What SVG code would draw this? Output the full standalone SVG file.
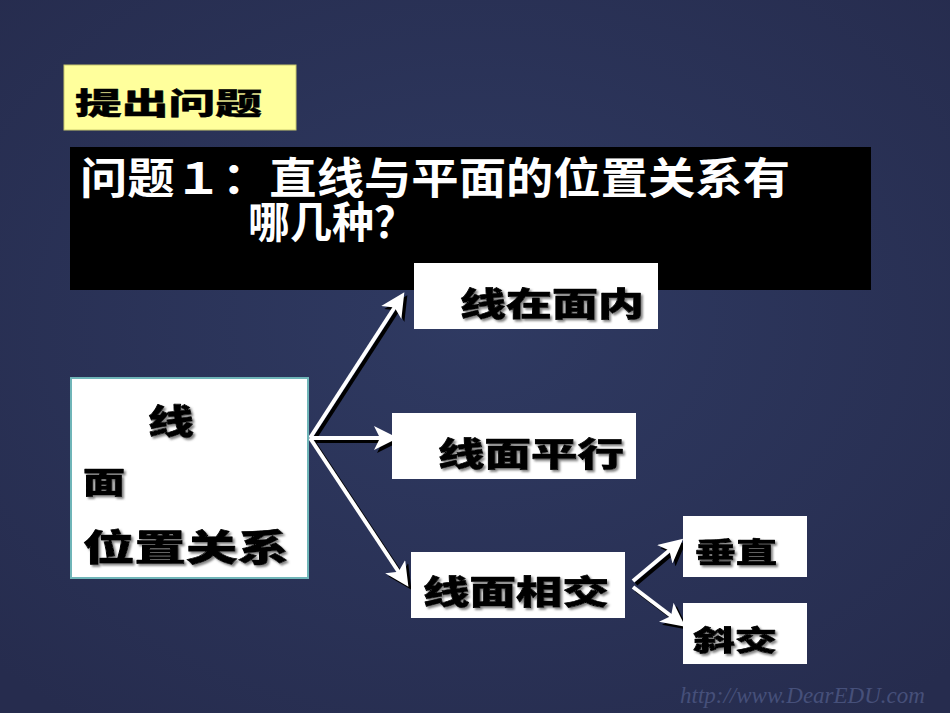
<svg xmlns="http://www.w3.org/2000/svg" width="950" height="713" viewBox="0 0 950 713">
<style>
.box{fill:#ffffff}
.lbl{font-family:"Noto Sans CJK SC","Noto Sans",sans-serif;font-weight:900;fill:#000;stroke:#000;stroke-width:0.7;stroke-linejoin:round;filter:url(#sh)}
.title{font-family:"Noto Sans CJK SC","Noto Sans",sans-serif;font-weight:700;fill:#fff}
.arr{stroke:#fff;stroke-width:4;fill:none;marker-end:url(#ah)}
.arrs{stroke:#000;stroke-width:4;fill:none;marker-end:url(#ahs)}
</style>
<defs>
<filter id="sh" x="-10%" y="-10%" width="130%" height="140%">
<feDropShadow dx="2" dy="2" stdDeviation="0.8" flood-color="#777" flood-opacity="0.9"/>
</filter>
<radialGradient id="bg" cx="50%" cy="45%" r="70%">
<stop offset="0" stop-color="#2f3a62"/>
<stop offset="1" stop-color="#262c4e"/>
</radialGradient>
<marker id="ah" markerWidth="6" markerHeight="6" refX="4" refY="3" orient="auto" markerUnits="strokeWidth">
<path d="M0,0 L6,3 L0,6 L1.5,3 Z" fill="#fff"/>
</marker>
<marker id="ahs" markerWidth="6" markerHeight="6" refX="4" refY="3" orient="auto" markerUnits="strokeWidth">
<path d="M0,0 L6,3 L0,6 L1.5,3 Z" fill="#000"/>
</marker>
</defs>
<rect width="950" height="713" fill="url(#bg)"/>

<g id="tiwen">
<rect x="64" y="65" width="232" height="65" fill="#ffff9c" stroke="#c8c86e" stroke-width="1"/>
<text x="75" y="114" class="lbl" font-size="30" style="filter:none;stroke-width:0.4" textLength="187" lengthAdjust="spacingAndGlyphs">提出问题</text>
</g>

<g id="question">
<rect x="70" y="147" width="801" height="143" fill="#000"/>
<text class="title" font-size="43"><tspan x="80" y="194" textLength="710" lengthAdjust="spacingAndGlyphs">问题１：直线与平面的位置关系有</tspan><tspan x="248" y="238" textLength="168" lengthAdjust="spacingAndGlyphs">哪几种？</tspan></text>
</g>

<g id="connectors">
<g transform="translate(3,3)">
<path class="arrs" d="M310,438 L400,299"/>
<path class="arrs" d="M310,438 L390,438"/>
<path class="arrs" d="M310,438 L404,580"/>
<path class="arrs" d="M633,581 L677,544"/>
<path class="arrs" d="M633,587 L679,622"/>
</g>
<path class="arr" d="M310,438 L400,299"/>
<path class="arr" d="M310,438 L390,438"/>
<path class="arr" d="M310,438 L404,580"/>
<path class="arr" d="M633,581 L677,544"/>
<path class="arr" d="M633,587 L679,622"/>
</g>

<g id="root">
<rect x="71" y="378" width="237" height="200" class="box" stroke="#6fb5b8" stroke-width="2"/>
<text x="148" y="434" class="lbl" font-size="34" textLength="46" lengthAdjust="spacingAndGlyphs">线</text>
<text x="83" y="493" class="lbl" font-size="30" textLength="42" lengthAdjust="spacingAndGlyphs">面</text>
<text x="83" y="561" class="lbl" font-size="36" textLength="206" lengthAdjust="spacingAndGlyphs">位置关系</text>
</g>

<g id="n1">
<rect x="414" y="263" width="244" height="66" class="box"/>
<text x="460" y="316" class="lbl" font-size="33" textLength="184" lengthAdjust="spacingAndGlyphs">线在面内</text>
</g>

<g id="n2">
<rect x="392" y="413" width="244" height="66" class="box"/>
<text x="438" y="466" class="lbl" font-size="33" textLength="186" lengthAdjust="spacingAndGlyphs">线面平行</text>
</g>

<g id="n3">
<rect x="411" y="552" width="214" height="66" class="box"/>
<text x="423" y="604" class="lbl" font-size="33" textLength="186" lengthAdjust="spacingAndGlyphs">线面相交</text>
</g>

<g id="n4">
<rect x="683" y="516" width="124" height="61" class="box"/>
<text x="695" y="563" class="lbl" font-size="28" textLength="82" lengthAdjust="spacingAndGlyphs">垂直</text>
</g>

<g id="n5">
<rect x="683" y="603" width="124" height="61" class="box"/>
<text x="693" y="651" class="lbl" font-size="28" textLength="84" lengthAdjust="spacingAndGlyphs">斜交</text>
</g>

<text x="680" y="703" font-family="Liberation Serif, serif" font-size="23" font-style="italic" fill="#46507a">http://www.DearEDU.com</text>
</svg>
